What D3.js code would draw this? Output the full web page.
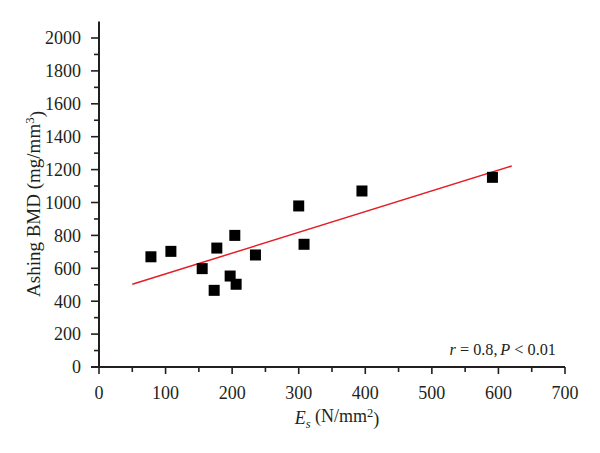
<!DOCTYPE html>
<html><head><meta charset="utf-8">
<script src="https://cdn.jsdelivr.net/npm/d3@7"></script>
<style>body{margin:0;background:#fff}svg{display:block}text{font-family:"Liberation Serif","Times New Roman",serif;fill:#231f20}</style>
</head><body><div id="chart"></div>
<script>
const esValues = [78, 108, 155, 177, 173, 197, 206, 204, 235, 300, 308, 395, 591];
const bmdValues = [670, 703, 598, 723, 466, 553, 503, 800, 681, 979, 746, 1070, 1153];
const fitX = [50, 620];
const fitY = [503, 1222];
const xTicks = [0, 100, 200, 300, 400, 500, 600, 700];
const yTicks = [0, 200, 400, 600, 800, 1000, 1200, 1400, 1600, 1800, 2000];

const W = 600, H = 453;
const svg = d3.select("#chart").append("svg").attr("width", W).attr("height", H);
const x = d3.scaleLinear().domain([0, 700]).range([99, 565]);
const y = d3.scaleLinear().domain([0, 2000]).range([367, 38]);
const ink = "#231f20";

// y axis
const yAxis = svg.append("g").attr("transform", `translate(${x(0)},0)`);
yAxis.append("line").attr("x1", 0).attr("x2", 0).attr("y1", y(0)).attr("y2", y(2100)).attr("stroke", ink).attr("stroke-width", 2);
yAxis.selectAll(".maj").data(yTicks).join("line").attr("x1", -8).attr("x2", 0).attr("y1", d => y(d)).attr("y2", d => y(d)).attr("stroke", ink).attr("stroke-width", 1.6);
yAxis.selectAll(".min").data(d3.range(100, 2100, 200)).join("line").attr("x1", -5).attr("x2", 0).attr("y1", d => y(d)).attr("y2", d => y(d)).attr("stroke", ink).attr("stroke-width", 1.6);
yAxis.selectAll("text").data(yTicks).join("text").attr("x", -18).attr("y", d => y(d)).attr("dy", "0.35em").attr("text-anchor", "end").style("font-size", "18px").text(d => d);

// x axis
const xAxis = svg.append("g").attr("transform", `translate(0,${y(0)})`);
xAxis.append("line").attr("x1", x(0) - 8).attr("x2", x(700)).attr("y1", 0).attr("y2", 0).attr("stroke", ink).attr("stroke-width", 2);
xAxis.selectAll(".maj").data(xTicks).join("line").attr("x1", d => x(d)).attr("x2", d => x(d)).attr("y1", 0).attr("y2", 7).attr("stroke", ink).attr("stroke-width", 1.6);
xAxis.selectAll(".min").data(d3.range(50, 700, 100)).join("line").attr("x1", d => x(d)).attr("x2", d => x(d)).attr("y1", 0).attr("y2", 5).attr("stroke", ink).attr("stroke-width", 1.6);
xAxis.selectAll("text").data(xTicks).join("text").attr("x", d => x(d)).attr("y", 32).attr("text-anchor", "middle").style("font-size", "18px").text(d => d);

// regression line
svg.append("line").attr("x1", x(fitX[0])).attr("y1", y(fitY[0])).attr("x2", x(fitX[1])).attr("y2", y(fitY[1])).attr("stroke", "#e41e26").attr("stroke-width", 1.5);

// points
const s = 11;
svg.selectAll(".pt").data(esValues.map((d, i) => [d, bmdValues[i]])).join("rect")
  .attr("x", d => x(d[0]) - s / 2).attr("y", d => y(d[1]) - s / 2).attr("width", s).attr("height", s).attr("fill", "#000");

// axis labels
const yl = svg.append("text").attr("transform", `translate(40,${(110 + 298) / 2}) rotate(-90)`).attr("text-anchor", "middle").style("font-size", "19px");
yl.append("tspan").text("Ashing BMD (mg/mm");
yl.append("tspan").attr("dy", "-0.45em").style("font-size", "13px").text("3");
yl.append("tspan").attr("dy", "0.45em").text(")");

const xl = svg.append("text").attr("x", 337).attr("y", 424).attr("text-anchor", "middle").style("font-size", "18px");
xl.append("tspan").style("font-style", "italic").text("E");
xl.append("tspan").attr("dy", "0.3em").style("font-style", "italic").style("font-size", "12.5px").text("s");
xl.append("tspan").attr("dy", "-0.3em").text(" (N/mm");
xl.append("tspan").attr("dy", "-0.45em").style("font-size", "12.5px").text("2");
xl.append("tspan").attr("dy", "0.45em").text(")");

const an = svg.append("text").attr("transform", "translate(556,355) scale(0.93,1)").attr("text-anchor", "end").style("font-size", "17.5px");
an.append("tspan").style("font-style", "italic").text("r");
an.append("tspan").text(" = 0.8,");
an.append("tspan").attr("dx", 3).style("font-style", "italic").text("P");
an.append("tspan").text(" < 0.01");
</script></body></html>
